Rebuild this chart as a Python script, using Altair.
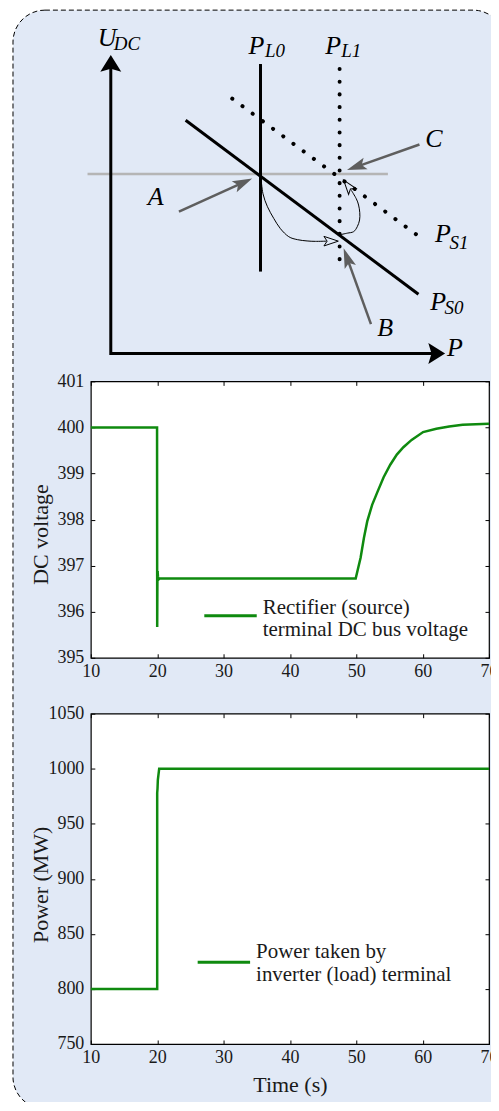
import altair as alt
import pandas as pd

FONT = "Liberation Serif"
GREEN = "#0f8a0f"
BG = "#e1e9f6"
TXT = "#1a1a1a"

# ---------------- time-series data ----------------
time_ticks = [10, 20, 30, 40, 50, 60, 70]

time_v = [10, 19.98, 20.0, 20.03, 20.06, 20.12, 20.2, 20.35, 49.91, 50.65, 51.15, 51.65, 52.39,
          53.13, 54.12, 55.12, 56.11, 57.1, 58.34, 60.07, 62.06, 64.0, 66.02, 68.0, 70.0]
volt = [400, 400, 395.67, 396.6, 396.88, 396.76, 396.7, 396.72, 396.72, 397.17, 397.6, 397.96, 398.32,
        398.58, 398.92, 399.19, 399.41, 399.57, 399.73, 399.9, 399.97, 400.02, 400.06, 400.07, 400.08]
volt_ticks = [395, 396, 397, 398, 399, 400, 401]

time_p = [10, 20.0, 20.0, 20.05, 20.1, 20.3, 70]
power = [800, 800, 978, 982, 990, 1000, 1000]
power_ticks = [750, 800, 850, 900, 950, 1000, 1050]

legend1_lines = ["Rectifier (source)", "terminal DC bus voltage"]
legend2_lines = ["Power taken by", "inverter (load) terminal"]

# ---------------- schematic (droop diagram) data, units: P right, U up ----------------
seg_names = []
seg_order = []
seg_p = []
seg_u = []
seg_kind = []


def add_seg(name, kind, pts):
    for k, (p, u) in enumerate(pts):
        seg_names.append(name)
        seg_order.append(k)
        seg_p.append(p)
        seg_u.append(u)
        seg_kind.append(kind)


add_seg("axes", "thick", [(0, 286), (0, 0), (322, 0)])
add_seg("PL0", "thick", [(150, 290), (150, 82)])
add_seg("PS0", "thick", [(75, 233.7), (308.3, 59.3)])
add_seg("PL1", "dot", [(229.3, 285), (229.3, 82)])
add_seg("PS1", "dot", [(121.7, 255.3), (315, 112.7)])
add_seg("Uref", "grey", [(-23.3, 179.7), (277.7, 179.7)])
add_seg("A", "shaft", [(68.3, 142), (130.8, 170.3)])
add_seg("B", "shaft", [(260.7, 29.3), (237.4, 94.0)])
add_seg("C", "shaft", [(309.3, 209.3), (248.0, 187.7)])
add_seg("c1", "thin", [(150.5, 176), (152.5, 160), (157, 147), (163.3, 135.3), (170, 125),
                       (178.3, 117), (187, 114), (196.7, 112.7), (205, 112.3), (216, 112.5)])
add_seg("c2", "thin", [(230, 119), (237, 120.5), (243.3, 122), (247, 127), (249.3, 133.7),
                       (249.5, 141), (248.3, 148.7), (246, 155), (241, 163.5)])

segs = pd.DataFrame({"name": seg_names, "o": seg_order, "p": seg_p, "u": seg_u, "kind": seg_kind})

head_kind = ["axis", "axis", "grey", "grey", "grey", "open", "open"]
head_p = [0, 326.6, 130.8, 237.4, 248.0, 220, 238.2]
head_u = [290.6, 0, 170.3, 94.0, 187.7, 112.5, 167.4]
head_angle = [0, 90, 65.6, 340.2, 250.6, 90, 322.3]
heads = pd.DataFrame({"kind": head_kind, "p": head_p, "u": head_u, "ang": head_angle})

lab_txt = ["U", "DC", "P", "L0", "P", "L1", "P", "S1", "P", "S0", "P", "A", "B", "C"]
lab_p = [-13, 3, 138, 154.5, 215, 231, 325, 339.5, 320, 334.5, 337, 37, 267, 315]
lab_u = [308, 304, 300, 297, 300, 297, 112, 105, 44, 39, -3, 149, 17, 207]
lab_fs = [26, 19, 26, 19, 26, 19, 26, 19, 26, 19, 26, 26, 26, 26]
labels = pd.DataFrame({"txt": lab_txt, "p": lab_p, "u": lab_u, "fs": lab_fs})

# ---------------- diagram panel ----------------
DW, DH = 403, 304
dx = alt.Scale(domain=[-20, 383], nice=False, zero=False)
dy = alt.Scale(domain=[28, 332], nice=False, zero=False)
X = alt.X("p:Q", scale=dx, axis=None)
Y = alt.Y("u:Q", scale=dy, axis=None)

frame = alt.Chart(pd.DataFrame({"k": [0]})).mark_rect(
    fill=BG, stroke="black", strokeWidth=1, strokeDash=[5, 3], cornerRadius=32
).encode(x=alt.value(-78), x2=alt.value(415), y=alt.value(-12), y2=alt.value(1089))


def seg_layer(kind, **mk):
    return alt.Chart(segs).transform_filter(alt.datum.kind == kind).mark_line(**mk).encode(
        x=X, y=Y, detail="name:N", order="o:Q")


thick = seg_layer("thick", color="black", strokeWidth=3, strokeCap="butt", strokeJoin="miter")
dots = seg_layer("dot", color="black", strokeWidth=4, strokeCap="round", strokeDash=[0.1, 12.6])
grey = seg_layer("grey", color="#b5b5b5", strokeWidth=2.5)
shafts = seg_layer("shaft", color="#5e5e5e", strokeWidth=2.5)
thin = seg_layer("thin", color="black", strokeWidth=1, interpolate="cardinal")

AXIS_HEAD = "M0,-0.8 L1,0.8 L0,0.5 L-1,0.8 Z"
GREY_HEAD = "M0,-1 L0.5,0.65 L0,0.3 L-0.5,0.65 Z"
OPEN_HEAD = "M0,-1 L0.6,0.8 L0,0.4 L-0.6,0.8 Z"


def head_layer(kind, **mk):
    return alt.Chart(heads).transform_filter(alt.datum.kind == kind).mark_point(opacity=1, **mk).encode(
        x=X, y=Y, angle=alt.Angle("ang:Q", scale=None))


h_axis = head_layer("axis", shape=AXIS_HEAD, size=441, filled=True, color="black")
h_grey = head_layer("grey", shape=GREY_HEAD, size=576, filled=True, color="#5e5e5e")
h_open = head_layer("open", shape=OPEN_HEAD, size=256, filled=False, color="black", strokeWidth=1)

texts = alt.Chart(labels).mark_text(
    font=FONT, fontStyle="italic", align="left", baseline="alphabetic", color="black"
).encode(x=X, y=Y, text="txt:N", size=alt.Size("fs:Q", scale=None))

diagram = alt.layer(frame, grey, thick, dots, shafts, thin, h_axis, h_grey, h_open, texts).properties(
    width=DW, height=DH, view=alt.ViewBackground(stroke="transparent", fill="transparent"))

# ---------------- time plots ----------------
PW = 399
TICK = 4


def make_plot(t, y, yticks, ydom, h, ytitle, ytitle_y, xtitle, leg_t, leg_y, txt_x, txt_lines, txt_y):
    df = pd.DataFrame({"t": t, "y": y, "i": list(range(len(t)))})
    xs = alt.Scale(domain=[10, 70], nice=False, zero=False)
    ys = alt.Scale(domain=ydom, nice=False, zero=False)
    xaxis_kw = dict(values=time_ticks, ticks=False, domain=False, grid=False, labelPadding=5,
                    labelFlush=False, labelFontSize=18, format="d")
    if xtitle:
        xaxis_kw.update(title=xtitle, titleFontSize=22, titleBaseline="alphabetic", titleY=48)
    else:
        xaxis_kw.update(title=None)
    main = alt.Chart(df).mark_line(color=GREEN, strokeWidth=2.5).encode(
        x=alt.X("t:Q", scale=xs, axis=alt.Axis(**xaxis_kw)),
        y=alt.Y("y:Q", scale=ys, axis=alt.Axis(
            values=yticks, ticks=False, domain=False, grid=False, labelPadding=7, labelFlush=False,
            labelFontSize=18, format="d", title=ytitle, titleFontSize=22, titleAngle=270,
            titleAlign="center", titleBaseline="middle", titleX=-50, titleY=ytitle_y)),
        order="i:Q")
    leg_rule = alt.Chart(pd.DataFrame({"t1": [leg_t[0]], "t2": [leg_t[1]], "y": [leg_y]})).mark_rule(
        color=GREEN, strokeWidth=3).encode(x=alt.X("t1:Q", scale=xs), x2="t2:Q", y=alt.Y("y:Q", scale=ys))
    leg_text = alt.Chart(pd.DataFrame({"t": [txt_x] * len(txt_lines), "y": txt_y, "txt": txt_lines})).mark_text(
        font=FONT, fontSize=21, align="left", baseline="alphabetic", color=TXT).encode(
        x=alt.X("t:Q", scale=xs), y=alt.Y("y:Q", scale=ys), text="txt:N")
    inner = alt.layer(main, leg_rule, leg_text)

    tick_kw = dict(offset=-TICK, tickSize=TICK, labels=False, domain=False, grid=False, title=None,
                   tickColor="black", tickWidth=1)
    ticks_a = alt.Chart(df).mark_point(opacity=0).encode(
        x=alt.X("t:Q", scale=xs, axis=alt.Axis(orient="top", values=time_ticks, **tick_kw)),
        y=alt.Y("y:Q", scale=ys, axis=alt.Axis(orient="left", values=yticks, **tick_kw)))
    ticks_b = alt.Chart(df).mark_point(opacity=0).encode(
        x=alt.X("t:Q", scale=xs, axis=alt.Axis(orient="bottom", values=time_ticks, **tick_kw)),
        y=alt.Y("y:Q", scale=ys, axis=alt.Axis(orient="right", values=yticks, **tick_kw)))
    return alt.layer(inner, ticks_a, ticks_b).resolve_scale(x="independent", y="independent").properties(
        width=PW, height=h, view=alt.ViewBackground(fill="white", stroke="black", strokeWidth=1.2))


p1 = make_plot(time_v, volt, volt_ticks, [395, 401], 277, "DC voltage", 153, None,
               [27.1, 35.0], 395.91, 35.9, legend1_lines, [395.95, 395.48])
p2 = make_plot(time_p, power, power_ticks, [750, 1050], 331, "Power (MW)", 171, "Time (s)",
               [26.1, 34.0], 824.3, 34.9, legend2_lines, [828.4, 807.6])

chart = alt.vconcat(diagram, p1, p2, spacing=56, bounds="flush").properties(
    padding={"left": 4, "top": 0, "right": -15, "bottom": -9}, background="white"
).configure_view(stroke="transparent").configure_axis(
    labelFont=FONT, titleFont=FONT, labelColor=TXT, titleColor=TXT, titleFontWeight="normal"
)

chart.save("out.html", embed_options={"renderer": "svg", "actions": False})
